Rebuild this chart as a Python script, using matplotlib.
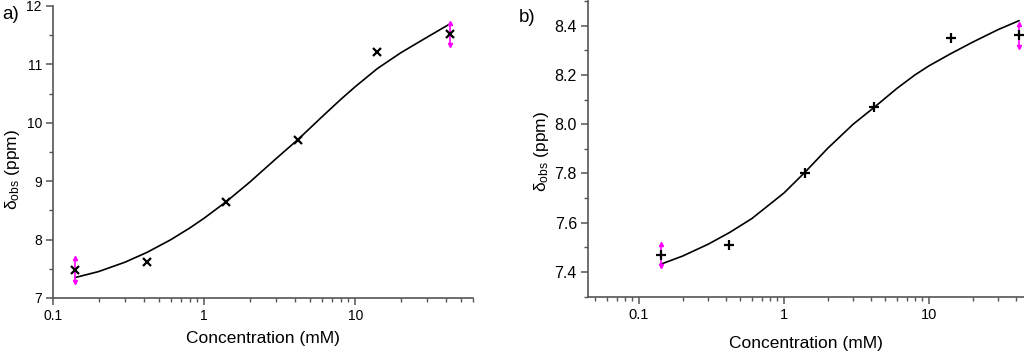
import matplotlib
matplotlib.use("Agg")
import matplotlib.pyplot as plt
from matplotlib.ticker import LogLocator, FixedLocator, NullFormatter, FuncFormatter, MultipleLocator

plt.rcParams['font.family'] = ['Liberation Sans', 'DejaVu Sans']
plt.rcParams['mathtext.fontset'] = 'custom'
plt.rcParams['mathtext.rm'] = 'Liberation Sans'
plt.rcParams['mathtext.it'] = 'Liberation Sans:italic'

# ---- data panel a ----
conc_a = [0.14, 0.42, 1.4, 4.2, 14, 42]
delta_a = [7.48, 7.61, 8.65, 9.71, 11.21, 11.52]
err_idx_a = [0, 5]
err_a = [0.2, 0.19]
fit_x_a = [0.14, 0.2, 0.3, 0.42, 0.6, 0.8, 1.0, 1.4, 2, 3, 4.2, 6, 8, 10, 14, 20, 30, 42]
fit_y_a = [7.35, 7.452, 7.614, 7.783, 7.997, 8.196, 8.367, 8.65, 8.983, 9.39, 9.72,
           10.10, 10.40, 10.62, 10.93, 11.20, 11.47, 11.69]

# ---- data panel b ----
conc_b = [0.142, 0.418, 1.40, 4.2, 14.1, 41.7]
delta_b = [7.469, 7.508, 7.80, 8.07, 8.349, 8.36]
err_idx_b = [0, 5]
err_b = [0.045, 0.045]
fit_x_b = [0.14, 0.2, 0.3, 0.42, 0.6, 1.0, 1.4, 2, 3, 4.2, 6, 8, 10, 14, 20, 30, 41.7]
fit_y_b = [7.431, 7.465, 7.513, 7.560, 7.617, 7.721, 7.806, 7.902, 8.0, 8.069, 8.145,
           8.200, 8.237, 8.285, 8.333, 8.384, 8.42]

fig = plt.figure(figsize=(10.24, 3.56), dpi=100)
axA = fig.add_axes([53/1024, 58/356, 420/1024, 292/356])
axB = fig.add_axes([588/1024, 59.3/356, 436/1024, 295.7/356])

spine_col = '#555555'

def style(ax, xlim, ylim, ymaj, ymin, ytick_fs, xtick_fs):
    ax.set_xscale('log')
    ax.set_xlim(*xlim)
    ax.set_ylim(*ylim)
    for s in ['top', 'right']:
        ax.spines[s].set_visible(False)
    for s in ['left', 'bottom']:
        ax.spines[s].set_color(spine_col)
        ax.spines[s].set_linewidth(1.2)
    ax.xaxis.set_major_locator(FixedLocator([0.1, 1, 10]))
    ax.xaxis.set_major_formatter(FuncFormatter(lambda v, p: ('%g' % v)))
    ax.xaxis.set_minor_locator(LogLocator(base=10, subs=[2, 3, 4, 5, 6, 7, 8, 9], numticks=20))
    ax.xaxis.set_minor_formatter(NullFormatter())
    ax.yaxis.set_major_locator(MultipleLocator(ymaj))
    ax.yaxis.set_minor_locator(MultipleLocator(ymin))
    ax.tick_params(which='major', direction='out', length=5, width=1.1, color=spine_col, pad=3)
    ax.tick_params(which='minor', direction='out', length=3, width=1.0, color=spine_col)
    ax.tick_params(axis='y', labelsize=ytick_fs)
    ax.tick_params(axis='x', labelsize=xtick_fs)

def draw(ax, cx, cy, fx, fy, eidx, evals, marker, ms):
    ax.plot(fx, fy, color='black', lw=1.2, zorder=2)
    ex = [cx[i] for i in eidx]
    ey = [cy[i] for i in eidx]
    ax.errorbar(ex, ey, yerr=evals, fmt='none', ecolor='magenta', elinewidth=1.2, zorder=3)
    ax.plot(ex, [y + e for y, e in zip(ey, evals)], linestyle='none', marker='^', ms=3, color='magenta', zorder=3)
    ax.plot(ex, [y - e for y, e in zip(ey, evals)], linestyle='none', marker='v', ms=3, color='magenta', zorder=3)
    ax.plot(cx, cy, linestyle='none', marker=marker, ms=ms, mew=1.6, color='black', zorder=4)

style(axA, (0.1, 60), (7, 12), 1, 0.5, 10, 10)
draw(axA, conc_a, delta_a, fit_x_a, fit_y_a, err_idx_a, err_a, 'x', 6)
style(axB, (0.0445, 45.2), (7.3, 8.5), 0.2, 0.1, 11.5, 10.5)
axB.yaxis.set_major_formatter(FuncFormatter(lambda v, p: '%.1f' % v))
draw(axB, conc_b, delta_b, fit_x_b, fit_y_b, err_idx_b, err_b, '+', 7)

ylab = r'δ$_{\mathrm{obs}}$ (ppm)'
axA.set_xlabel('Concentration (mM)', fontsize=12.5, labelpad=6)
axA.set_ylabel(ylab, fontsize=12.5)
axA.yaxis.set_label_coords(-0.074, 0.44)
axB.set_xlabel('Concentration (mM)', fontsize=12.5, labelpad=10)
axB.set_ylabel(ylab, fontsize=12.5)
axB.yaxis.set_label_coords(-0.084, 0.49)

fig.text(2/1024, 1 - 19/356, 'a)', fontsize=13.5, ha='left', va='baseline')
fig.text(519/1024, 1 - 22/356, 'b)', fontsize=13.5, ha='left', va='baseline')

fig.savefig('out.png', dpi=100)
